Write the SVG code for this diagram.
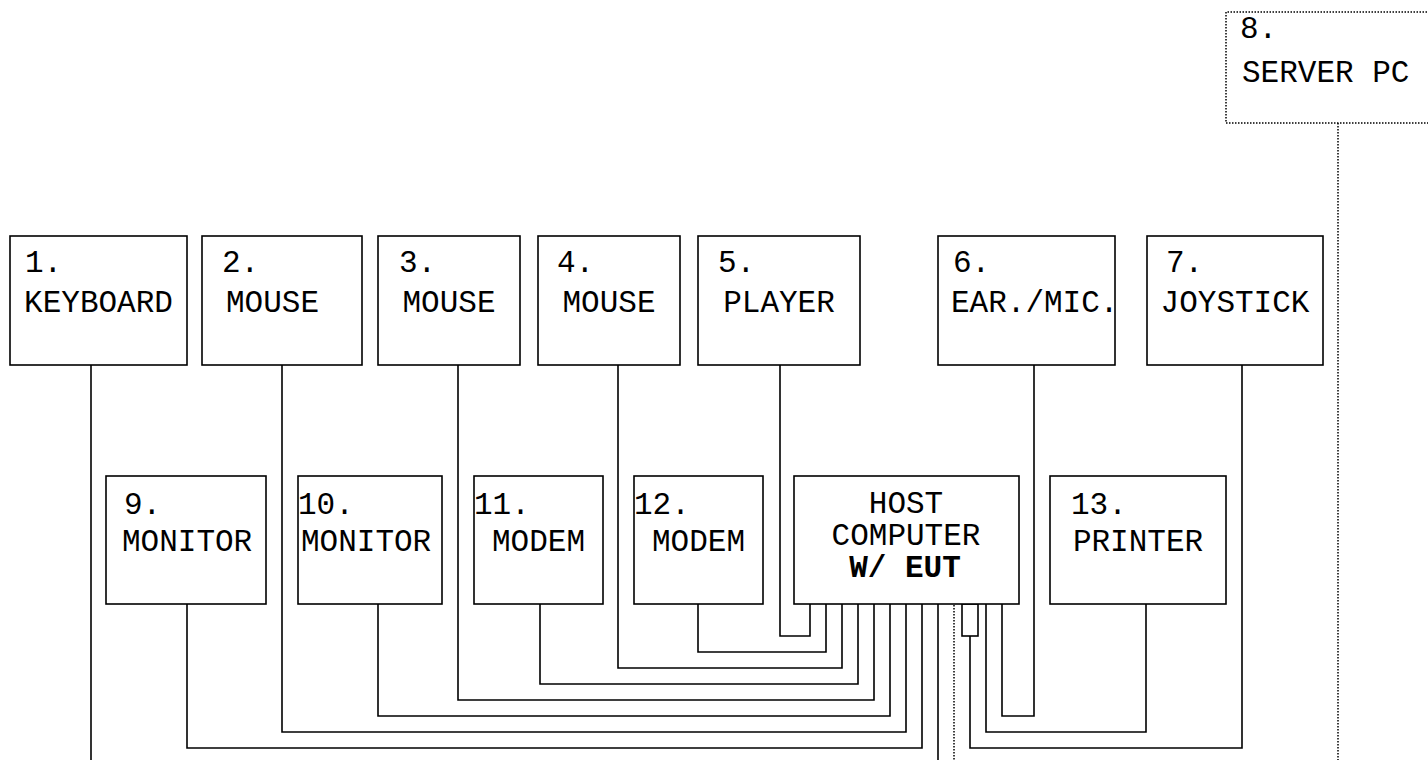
<svg xmlns="http://www.w3.org/2000/svg" width="1428" height="760" viewBox="0 0 1428 760">
<style>
.box{fill:#fff;stroke:#000;stroke-width:1.6}
.dot{fill:none;stroke:#000;stroke-width:1.5;stroke-dasharray:1.5 1.5}
.ln{fill:none;stroke:#000;stroke-width:1.6}
text{font-family:"Liberation Mono","Courier New",monospace;font-size:31px;fill:#000}
.c{text-anchor:middle}
.b{font-weight:bold}
</style>
<rect width="1428" height="760" fill="#fff"/>
<g id="connectors">
<path class="ln" d="M91 365V760"/>
<path class="ln" d="M282 365V732H906V604"/>
<path class="ln" d="M458 365V700H874V604"/>
<path class="ln" d="M618 365V668H842V604"/>
<path class="ln" d="M780 365V636H810V604"/>
<path class="ln" d="M1034 365V716H1002V604"/>
<path class="ln" d="M1242 365V748H970V636"/>
<path class="ln" d="M187 604V748H922V604"/>
<path class="ln" d="M378 604V716H890V604"/>
<path class="ln" d="M540 604V684H858V604"/>
<path class="ln" d="M698 604V652H826V604"/>
<path class="ln" d="M1146 604V732H986V604"/>
<path class="ln" d="M938 604V760"/>
<rect class="ln" x="962" y="604" width="16" height="32"/>
<path class="dot" d="M954 605V760"/>
<path class="dot" d="M1338 123V760"/>
</g>
<g id="n1"><rect class="box" x="10" y="236" width="177" height="129"/><text x="25" y="272">1.</text><text class="c" x="98.5" y="312">KEYBOARD</text></g>
<g id="n2"><rect class="box" x="202" y="236" width="160" height="129"/><text x="222" y="272">2.</text><text x="226" y="312">MOUSE</text></g>
<g id="n3"><rect class="box" x="378" y="236" width="142" height="129"/><text x="399" y="272">3.</text><text class="c" x="449" y="312">MOUSE</text></g>
<g id="n4"><rect class="box" x="538" y="236" width="142" height="129"/><text x="557" y="272">4.</text><text class="c" x="609" y="312">MOUSE</text></g>
<g id="n5"><rect class="box" x="698" y="236" width="162" height="129"/><text x="718" y="272">5.</text><text class="c" x="779" y="312">PLAYER</text></g>
<g id="n6"><rect class="box" x="938" y="236" width="177" height="129"/><text x="953" y="272">6.</text><text x="951" y="312">EAR./MIC.</text></g>
<g id="n7"><rect class="box" x="1147" y="236" width="176" height="129"/><text x="1166" y="272">7.</text><text class="c" x="1235" y="312">JOYSTICK</text></g>
<g id="n8"><path class="dot" d="M1430 12H1226V123H1430"/><text x="1240" y="38">8.</text><text x="1242" y="82">SERVER PC</text></g>
<g id="n9"><rect class="box" x="106" y="476" width="160" height="128"/><text x="124" y="514">9.</text><text x="122" y="551">MONITOR</text></g>
<g id="n10"><rect class="box" x="298" y="476" width="144" height="128"/><text x="298" y="514">10.</text><text x="301" y="551">MONITOR</text></g>
<g id="n11"><rect class="box" x="474" y="476" width="129" height="128"/><text x="474" y="514">11.</text><text class="c" x="538.5" y="551">MODEM</text></g>
<g id="n12"><rect class="box" x="634" y="476" width="129" height="128"/><text x="634" y="514">12.</text><text class="c" x="698.5" y="551">MODEM</text></g>
<g id="host"><rect class="box" x="794" y="476" width="225" height="128"/><text class="c" x="906" y="513">HOST</text><text class="c" x="906" y="545">COMPUTER</text><text class="c b" x="905" y="577">W/ EUT</text></g>
<g id="n13"><rect class="box" x="1050" y="476" width="176" height="128"/><text x="1071" y="514">13.</text><text class="c" x="1138" y="551">PRINTER</text></g>
</svg>
